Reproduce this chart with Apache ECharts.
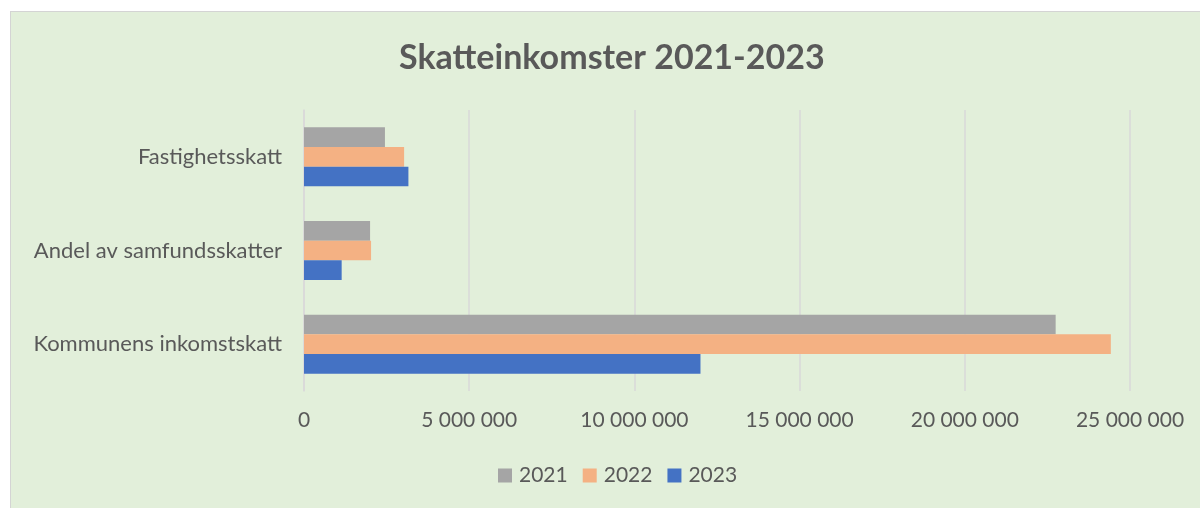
<!DOCTYPE html>
<html>
<head>
<meta charset="utf-8">
<script src="https://cdn.jsdelivr.net/npm/echarts@6/dist/echarts.min.js"></script>
<style>
	html, body { margin: 0; padding: 0; background: #ffffff; }
	#wrap {
		position: absolute; left: 10px; top: 11px; width: 1190px; height: 497px;
		background: #e2efda; border-left: 1px solid #d4d4d4; border-top: 1px solid #d4d4d4;
	}
	#chart { position: absolute; left: -11px; top: -12px; width: 1200px; height: 508px; }
</style>
</head>
<body>
<div id="wrap"><div id="chart"></div></div>
<script>
// kategorier nerifran och upp (y-axeln)
var categories = ['Kommunens inkomstskatt', 'Andel av samfundsskatter', 'Fastighetsskatt'];
var years = ['2021', '2022', '2023'];
var values2021 = [22750000, 2000000, 2450000];
var values2022 = [24420000, 2030000, 3030000];
var values2023 = [12000000, 1140000, 3160000];
var xTicks = [0, 5000000, 10000000, 15000000, 20000000, 25000000];

var colors = { '2021': '#a5a5a5', '2022': '#f4b183', '2023': '#4472c4' };
var font = 'Lato, "Open Sans", sans-serif';

function fmt(v) {
	return String(v).replace(/\B(?=(\d{3})+(?!\d))/g, ' ');
}

var myChart = echarts.init(document.getElementById('chart'));

var option = {
	backgroundColor: 'transparent',
	animation: false,
	title: {
		text: 'Skatteinkomster 2021-2023',
		left: 394,
		top: 36,
		textStyle: {
			fontFamily: font,
			fontSize: 34,
			fontWeight: 'bold',
			color: '#595959'
		}
	},
	legend: {
		data: years,
		bottom: 17,
		left: 493,
		itemWidth: 14,
		itemHeight: 14,
		itemGap: 15,
		icon: 'rect',
		textStyle: { fontFamily: font, fontSize: 21, color: '#595959', padding: [0, 0, 0, 2] }
	},
	grid: {
		left: 304,
		right: 70,
		top: 110,
		bottom: 117,
		containLabel: false
	},
	xAxis: {
		type: 'value',
		min: xTicks[0],
		max: xTicks[xTicks.length - 1],
		interval: xTicks[1] - xTicks[0],
		axisLine: { show: false },
		axisTick: { show: false },
		axisLabel: {
			formatter: fmt,
			fontFamily: font,
			fontSize: 21,
			color: '#595959',
			margin: 19
		},
		splitLine: { show: true, lineStyle: { color: '#d9d9d9', width: 1.5 } }
	},
	yAxis: {
		type: 'category',
		data: categories,
		axisLine: { show: true, lineStyle: { color: '#d9d9d9', width: 1.5 } },
		axisTick: { show: false },
		axisLabel: {
			fontFamily: font,
			fontSize: 22,
			color: '#595959',
			margin: 22
		}
	},
	series: [
		{ name: '2021', type: 'bar', data: values2021, itemStyle: { color: colors['2021'] },
			barGap: '0%', barCategoryGap: '37%' },
		{ name: '2022', type: 'bar', data: values2022, itemStyle: { color: colors['2022'] },
			barGap: '0%', barCategoryGap: '37%' },
		{ name: '2023', type: 'bar', data: values2023, itemStyle: { color: colors['2023'] },
			barGap: '0%', barCategoryGap: '37%' }
	]
};

myChart.setOption(option);
</script>
</body>
</html>
